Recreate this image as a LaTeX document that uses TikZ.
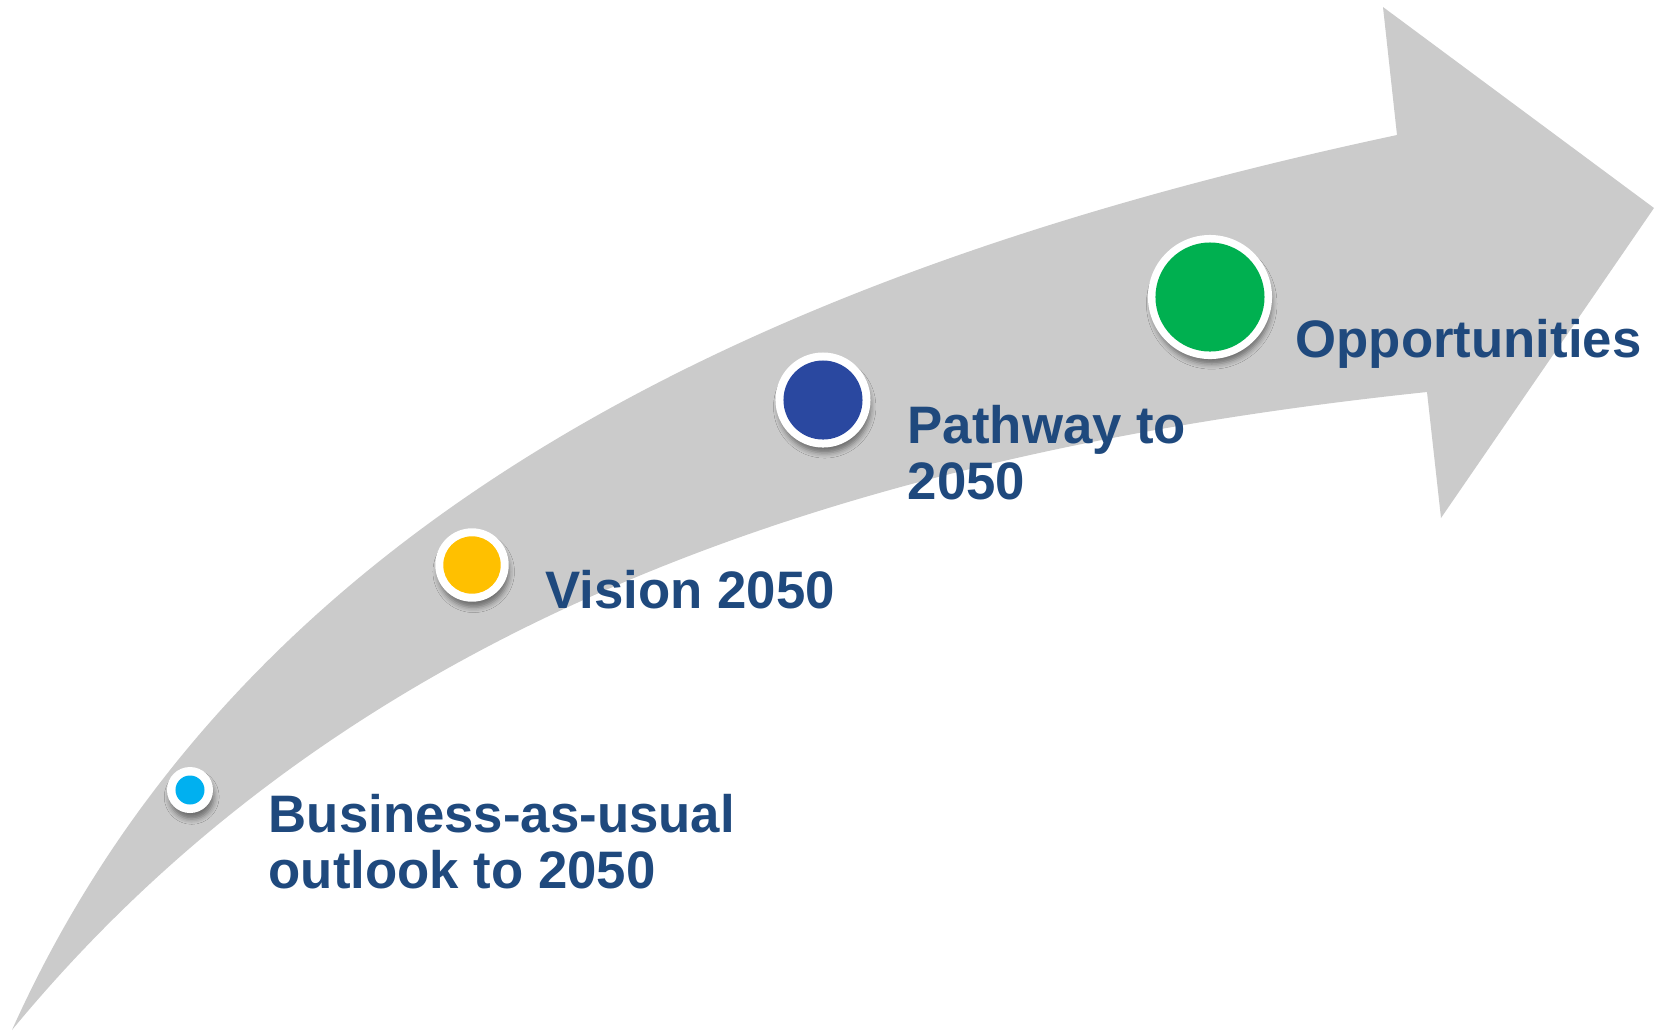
\documentclass[tikz,border=0pt]{standalone}
\usepackage{fontspec}
\setmainfont{Liberation Sans}
\usetikzlibrary{shadows.blur}

\definecolor{arrowgray}{RGB}{203,203,203}
\definecolor{stagetext}{RGB}{31,73,125}
\definecolor{baublue}{RGB}{0,176,240}
\definecolor{visionyellow}{RGB}{255,192,0}
\definecolor{pathnavy}{RGB}{42,72,160}
\definecolor{oppgreen}{RGB}{0,176,80}

\begin{document}
\begin{tikzpicture}[x=0.01cm, y=-0.01cm,
    ring/.style={circle, fill=white, inner sep=0pt,
      blur shadow={shadow xshift=0.5pt, shadow yshift=-2pt, shadow scale=0.97,
        shadow blur radius=1.5pt, shadow opacity=45}},
    dot/.style={circle, inner sep=0pt},
    stage/.style={text=stagetext, font=\bfseries\fontsize{15}{15.8}\selectfont,
      align=left, inner sep=0pt}]
      \useasboundingbox (0,0) rectangle (1665,1032);

      % ---- curved arrow -------------------------------
      \fill[arrowgray] (12,1030) .. controls (250,500) and (797,263) .. (1397,135)
        -- (1383,7) -- (1654,208) -- (1441,518) -- (1427,392)
        .. controls (827,455) and (342,630) .. (12,1030) -- cycle;

      % ---- milestones on the arrow --------------------
      \node[ring, minimum size=0.46cm]  (bau)     at (190,790)  {};
      \node[dot, fill=baublue, minimum size=0.29cm] (baudot) at (bau) {};
      \node[ring, minimum size=0.734cm] (vision)  at (472,565)  {};
      \node[dot, fill=visionyellow, minimum size=0.574cm] (visiondot) at (vision) {};
      \node[ring, minimum size=0.95cm]  (pathway) at (823,400)  {};
      \node[dot, fill=pathnavy, minimum size=0.79cm] (pathwaydot) at (pathway) {};
      \node[ring, minimum size=1.24cm]  (opps)    at (1210,297) {};
      \node[dot, fill=oppgreen, minimum size=1.09cm] (oppsdot) at (opps) {};

      % ---- stage labels (base = last line) ------------
      \node[stage, anchor=base west] (bautext)     at (268,888)  {Business-as-usual\\outlook to 2050};
      \node[stage, anchor=base west] (visiontext)  at (545,608)  {Vision 2050};
      \node[stage, anchor=base west] (pathwaytext) at (907,499)  {Pathway to\\2050};
      \node[stage, anchor=base west] (oppstext)    at (1295,357) {Opportunities};
    \end{tikzpicture}
\end{document}
